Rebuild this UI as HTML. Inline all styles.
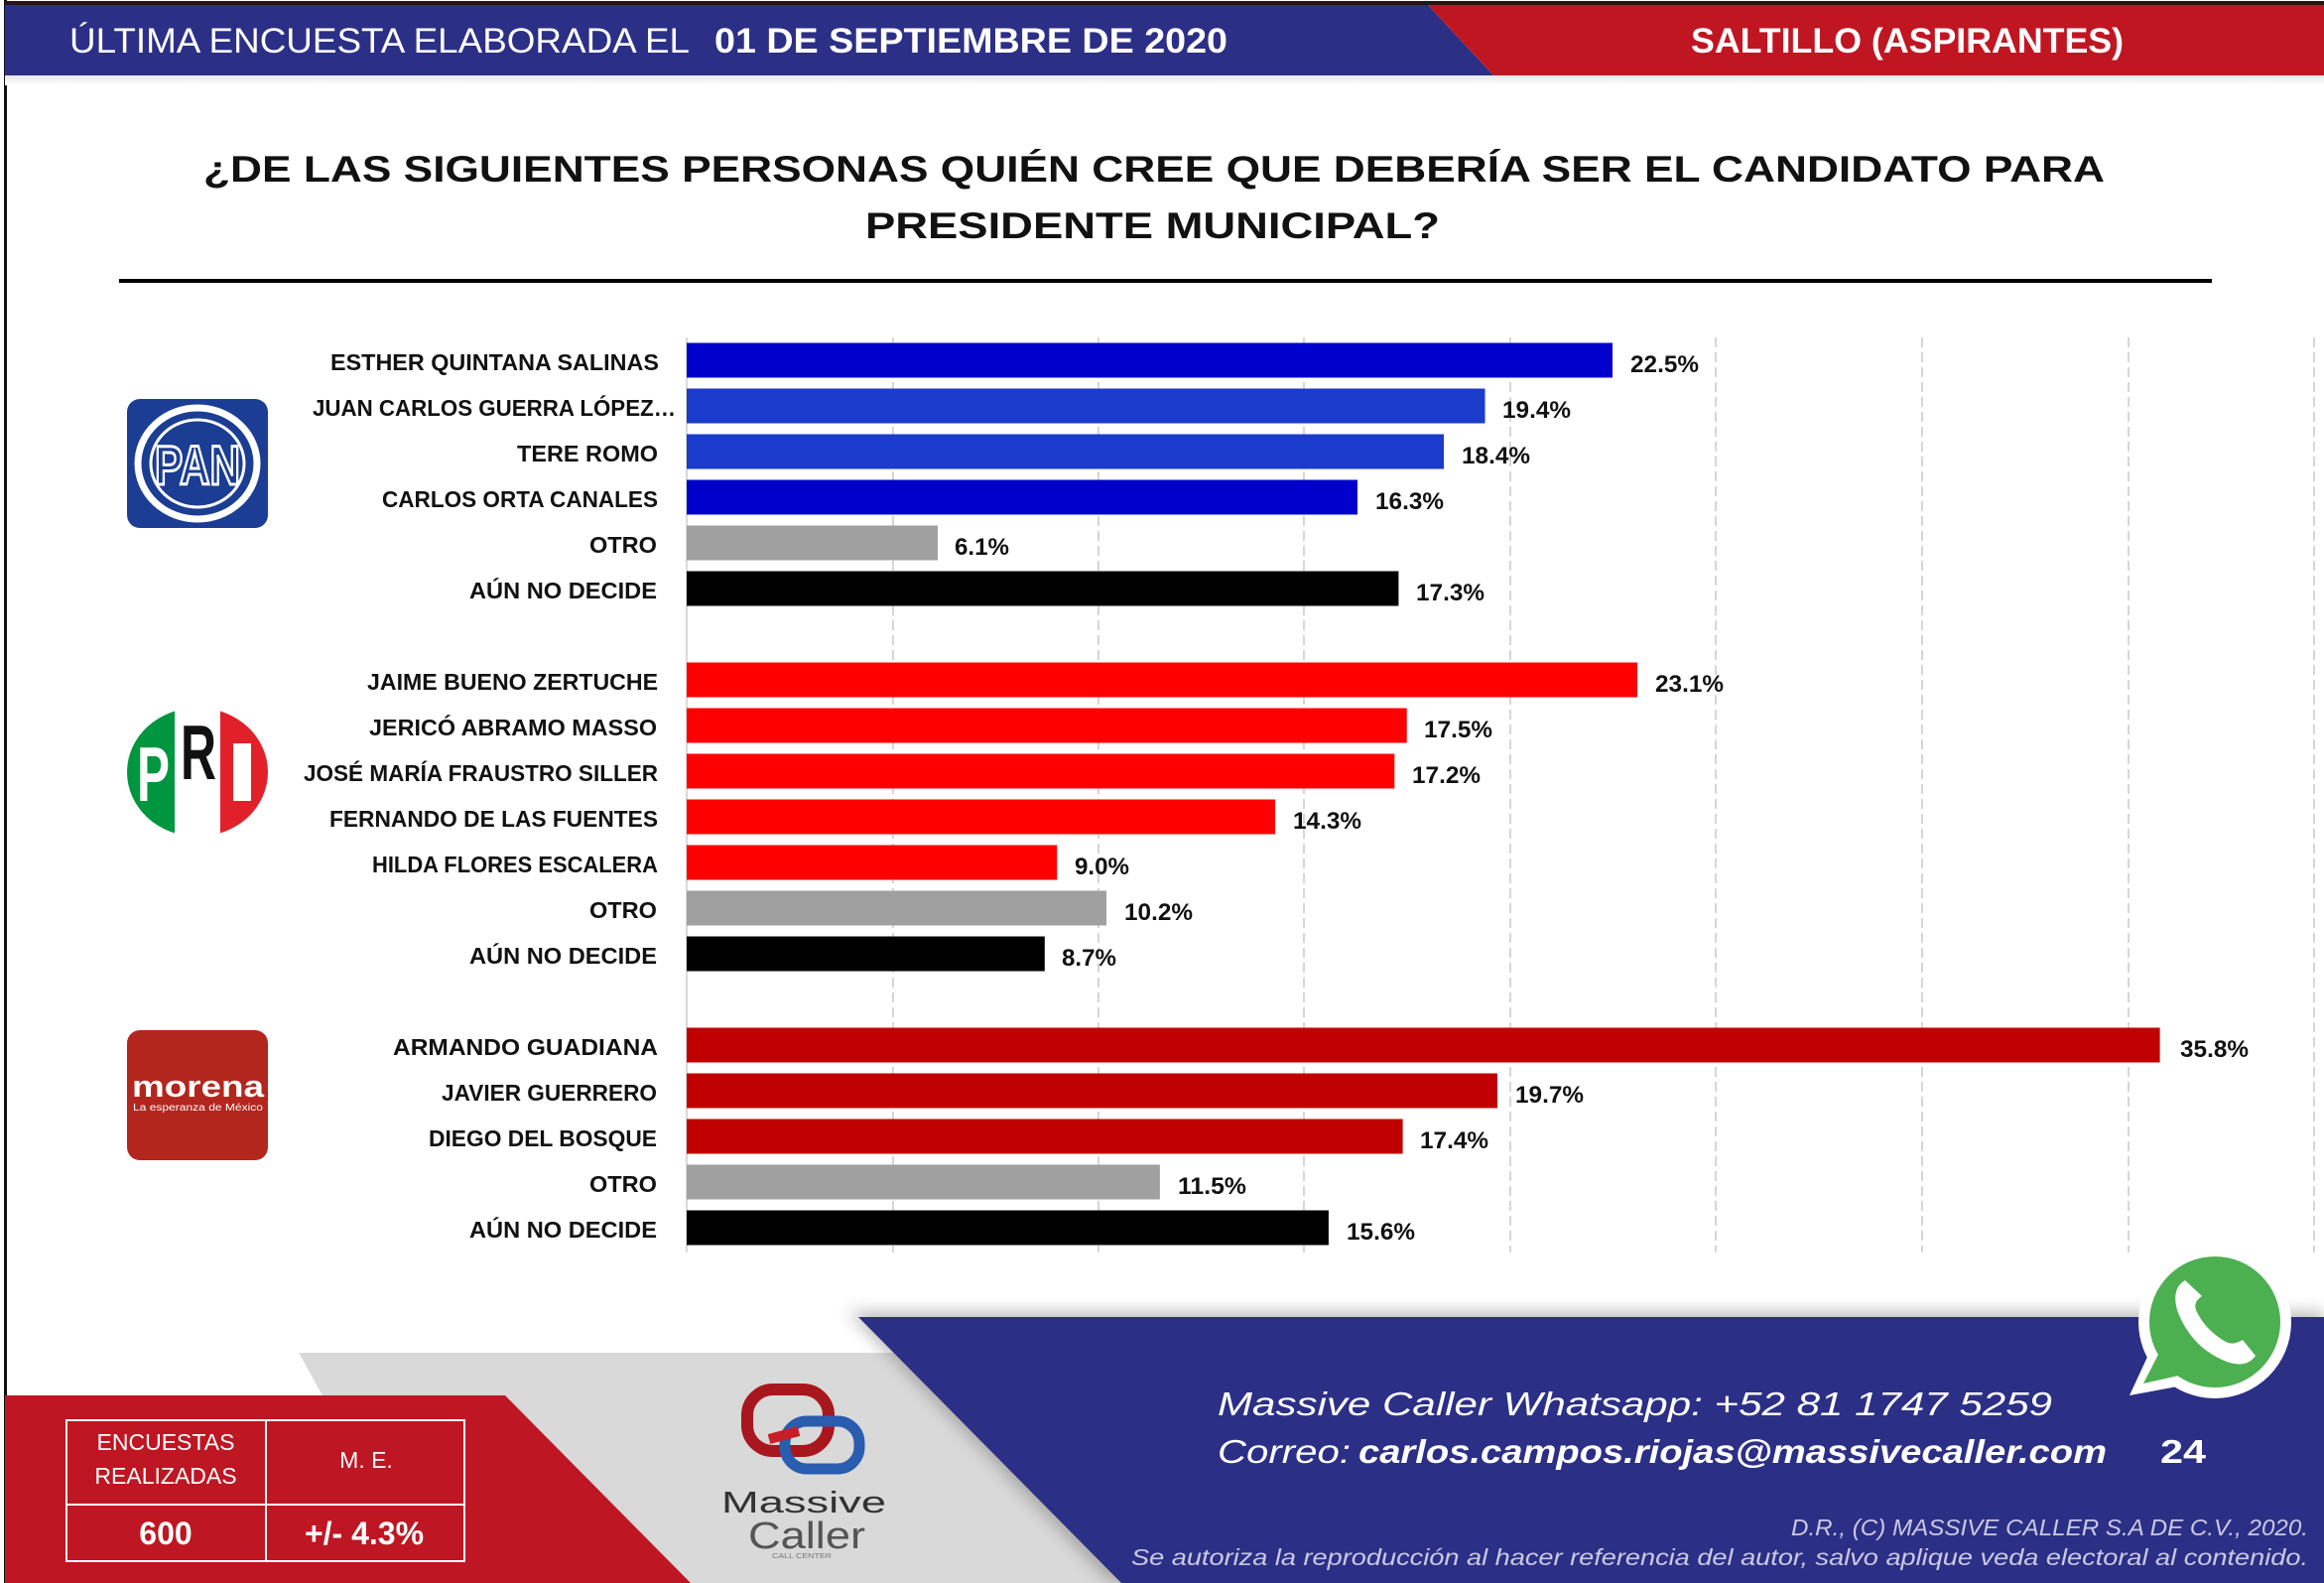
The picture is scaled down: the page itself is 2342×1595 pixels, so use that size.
<!DOCTYPE html>
<html><head><meta charset="utf-8"><style>
html,body{margin:0;padding:0;background:#fff;}
svg{display:block;}
text{font-family:"Liberation Sans",Arial,sans-serif;}
</style></head><body>
<svg width="2342" height="1595" viewBox="0 0 2342 1595" xmlns="http://www.w3.org/2000/svg">
<defs>
<filter id="blur" x="-20%" y="-20%" width="140%" height="140%"><feGaussianBlur stdDeviation="8"/></filter>
<linearGradient id="hdrsh" x1="0" y1="0" x2="0" y2="1"><stop offset="0" stop-color="#e8e8e8"/><stop offset="1" stop-color="#ffffff"/></linearGradient>
</defs>
<rect width="2342" height="1595" fill="#fff"/>
<!-- slide left border -->
<rect x="4" y="0" width="3" height="1595" fill="#111"/>
<!-- header -->
<rect x="5" y="76" width="2337" height="10" fill="url(#hdrsh)"/>
<rect x="5" y="1" width="2337" height="4" fill="#2a1416"/>
<polygon points="5,5 1439,5 1505,76 5,76" fill="#2C2F86"/>
<polygon points="1439,5 2342,5 2342,76 1505,76" fill="#C01622"/>
<text x="70" y="53" font-size="35" fill="#fff" textLength="625" lengthAdjust="spacingAndGlyphs">ÚLTIMA ENCUESTA ELABORADA EL</text>
<text x="720" y="53" font-size="35" font-weight="bold" fill="#fff" textLength="517" lengthAdjust="spacingAndGlyphs">01 DE SEPTIEMBRE DE 2020</text>
<text x="1704" y="53" font-size="35" font-weight="bold" fill="#fff" textLength="436" lengthAdjust="spacingAndGlyphs">SALTILLO (ASPIRANTES)</text>
<!-- title -->
<text x="205" y="183" font-size="37" font-weight="bold" fill="#111" textLength="1916" lengthAdjust="spacingAndGlyphs">¿DE LAS SIGUIENTES PERSONAS QUIÉN CREE QUE DEBERÍA SER EL CANDIDATO PARA</text>
<text x="872" y="240" font-size="37" font-weight="bold" fill="#111" textLength="579" lengthAdjust="spacingAndGlyphs">PRESIDENTE MUNICIPAL?</text>
<rect x="120" y="281" width="2109" height="4" fill="#000"/>
<!-- gridlines -->
<g stroke="#d6d6d6" stroke-width="2" stroke-dasharray="10,5">
<line x1="900" y1="340" x2="900" y2="1262"/>
<line x1="1107" y1="340" x2="1107" y2="1262"/>
<line x1="1314" y1="340" x2="1314" y2="1262"/>
<line x1="1522" y1="340" x2="1522" y2="1262"/>
<line x1="1729" y1="340" x2="1729" y2="1262"/>
<line x1="1937" y1="340" x2="1937" y2="1262"/>
<line x1="2145" y1="340" x2="2145" y2="1262"/>
<line x1="2332" y1="340" x2="2332" y2="1262"/>
</g>
<line x1="692" y1="340" x2="692" y2="1262" stroke="#d9d9d9" stroke-width="2"/>
<!-- bars -->
<g>
<rect x="692" y="345.5" width="933" height="35" fill="#0000CC"/>
<rect x="692" y="391.5" width="804.5" height="35" fill="#1A3BCB"/>
<rect x="692" y="437.5" width="763" height="35" fill="#1A3BCB"/>
<rect x="692" y="483.5" width="676" height="35" fill="#0000CC"/>
<rect x="692" y="529.5" width="253" height="35" fill="#A0A0A0"/>
<rect x="692" y="575.5" width="717.4" height="35" fill="#000"/>
<rect x="692" y="667.5" width="958" height="35" fill="#FF0000"/>
<rect x="692" y="713.5" width="725.7" height="35" fill="#FF0000"/>
<rect x="692" y="759.5" width="713.3" height="35" fill="#FF0000"/>
<rect x="692" y="805.5" width="593" height="35" fill="#FF0000"/>
<rect x="692" y="851.5" width="373.2" height="35" fill="#FF0000"/>
<rect x="692" y="897.5" width="423" height="35" fill="#A0A0A0"/>
<rect x="692" y="943.5" width="360.8" height="35" fill="#000"/>
<rect x="692" y="1035.5" width="1484.6" height="35" fill="#C00000"/>
<rect x="692" y="1081.5" width="817" height="35" fill="#C00000"/>
<rect x="692" y="1127.5" width="721.6" height="35" fill="#C00000"/>
<rect x="692" y="1173.5" width="476.9" height="35" fill="#A0A0A0"/>
<rect x="692" y="1219.5" width="646.9" height="35" fill="#000"/>
</g>
<!-- category labels -->
<g font-size="23" font-weight="bold" fill="#111">
<text x="333" y="373" textLength="331" lengthAdjust="spacingAndGlyphs">ESTHER QUINTANA SALINAS</text>
<text x="315" y="419" textLength="366" lengthAdjust="spacingAndGlyphs">JUAN CARLOS GUERRA LÓPEZ…</text>
<text x="521" y="465" textLength="142" lengthAdjust="spacingAndGlyphs">TERE ROMO</text>
<text x="385" y="511" textLength="278" lengthAdjust="spacingAndGlyphs">CARLOS ORTA CANALES</text>
<text x="594" y="557" textLength="68" lengthAdjust="spacingAndGlyphs">OTRO</text>
<text x="473" y="603" textLength="189" lengthAdjust="spacingAndGlyphs">AÚN NO DECIDE</text>
<text x="370" y="695" textLength="293" lengthAdjust="spacingAndGlyphs">JAIME BUENO ZERTUCHE</text>
<text x="372" y="741" textLength="290" lengthAdjust="spacingAndGlyphs">JERICÓ ABRAMO MASSO</text>
<text x="306" y="787" textLength="357" lengthAdjust="spacingAndGlyphs">JOSÉ MARÍA FRAUSTRO SILLER</text>
<text x="332" y="833" textLength="331" lengthAdjust="spacingAndGlyphs">FERNANDO DE LAS FUENTES</text>
<text x="375" y="879" textLength="288" lengthAdjust="spacingAndGlyphs">HILDA FLORES ESCALERA</text>
<text x="594" y="925" textLength="68" lengthAdjust="spacingAndGlyphs">OTRO</text>
<text x="473" y="971" textLength="189" lengthAdjust="spacingAndGlyphs">AÚN NO DECIDE</text>
<text x="396" y="1063" textLength="267" lengthAdjust="spacingAndGlyphs">ARMANDO GUADIANA</text>
<text x="445" y="1109" textLength="217" lengthAdjust="spacingAndGlyphs">JAVIER GUERRERO</text>
<text x="432" y="1155" textLength="230" lengthAdjust="spacingAndGlyphs">DIEGO DEL BOSQUE</text>
<text x="594" y="1201" textLength="68" lengthAdjust="spacingAndGlyphs">OTRO</text>
<text x="473" y="1247" textLength="189" lengthAdjust="spacingAndGlyphs">AÚN NO DECIDE</text>
</g>
<!-- value labels -->
<g font-size="24" font-weight="bold" fill="#111">
<text x="1643" y="375" textLength="69" lengthAdjust="spacingAndGlyphs">22.5%</text>
<text x="1514" y="421" textLength="69" lengthAdjust="spacingAndGlyphs">19.4%</text>
<text x="1473" y="467" textLength="69" lengthAdjust="spacingAndGlyphs">18.4%</text>
<text x="1386" y="513" textLength="69" lengthAdjust="spacingAndGlyphs">16.3%</text>
<text x="962" y="559" textLength="55" lengthAdjust="spacingAndGlyphs">6.1%</text>
<text x="1427" y="605" textLength="69" lengthAdjust="spacingAndGlyphs">17.3%</text>
<text x="1668" y="697" textLength="69" lengthAdjust="spacingAndGlyphs">23.1%</text>
<text x="1435" y="743" textLength="69" lengthAdjust="spacingAndGlyphs">17.5%</text>
<text x="1423" y="789" textLength="69" lengthAdjust="spacingAndGlyphs">17.2%</text>
<text x="1303" y="835" textLength="69" lengthAdjust="spacingAndGlyphs">14.3%</text>
<text x="1083" y="881" textLength="55" lengthAdjust="spacingAndGlyphs">9.0%</text>
<text x="1133" y="927" textLength="69" lengthAdjust="spacingAndGlyphs">10.2%</text>
<text x="1070" y="973" textLength="55" lengthAdjust="spacingAndGlyphs">8.7%</text>
<text x="2197" y="1065" textLength="69" lengthAdjust="spacingAndGlyphs">35.8%</text>
<text x="1527" y="1111" textLength="69" lengthAdjust="spacingAndGlyphs">19.7%</text>
<text x="1431" y="1157" textLength="69" lengthAdjust="spacingAndGlyphs">17.4%</text>
<text x="1187" y="1203" textLength="69" lengthAdjust="spacingAndGlyphs">11.5%</text>
<text x="1357" y="1249" textLength="69" lengthAdjust="spacingAndGlyphs">15.6%</text>
</g>
<!-- PAN logo -->
<rect x="128" y="402" width="142" height="130" rx="13" fill="#1B3D93"/>
<ellipse cx="199" cy="467" rx="60" ry="56" fill="none" stroke="#fff" stroke-width="7"/>
<ellipse cx="199" cy="467" rx="47" ry="44" fill="none" stroke="#fff" stroke-width="3"/>
<text x="156" y="488" font-size="56" font-weight="bold" fill="#1B3D93" stroke="#fff" stroke-width="3" textLength="86" lengthAdjust="spacingAndGlyphs">PAN</text>
<!-- PRI logo -->
<clipPath id="pric"><ellipse cx="199" cy="778" rx="71" ry="65"/></clipPath>
<g clip-path="url(#pric)">
<rect x="120" y="700" width="56" height="150" fill="#00953F"/>
<rect x="176" y="700" width="46" height="150" fill="#fff"/>
<rect x="222" y="700" width="60" height="150" fill="#E1202A"/>
</g>
<text x="138" y="807" font-size="78" font-weight="bold" fill="#fff" textLength="33" lengthAdjust="spacingAndGlyphs">P</text>
<text x="182" y="785" font-size="78" font-weight="bold" fill="#111" textLength="36" lengthAdjust="spacingAndGlyphs">R</text>
<rect x="235" y="749" width="18" height="58" fill="#fff"/>
<!-- morena logo -->
<rect x="128" y="1038" width="142" height="131" rx="13" fill="#B3261E"/>
<text x="133" y="1105" font-size="31" font-weight="bold" fill="#fff" textLength="133" lengthAdjust="spacingAndGlyphs">morena</text>
<text x="134" y="1119" font-size="10" fill="#fff" textLength="131" lengthAdjust="spacingAndGlyphs">La esperanza de México</text>
<!-- footer shapes -->
<polygon points="301,1363 1300,1363 1300,1595 430,1595" fill="#D9D9D9"/>
<polygon points="855,1322 2342,1322 2342,1595 1120,1595" fill="#666" opacity="0.45" filter="url(#blur)"/>
<polygon points="865,1327 2342,1327 2342,1595 1130,1595" fill="#2C2F86"/>
<polygon points="5,1406 509,1406 696,1595 5,1595" fill="#BE1622"/>
<!-- table -->
<g stroke="#fff" stroke-width="2" fill="none">
<rect x="67" y="1431" width="401" height="142"/>
<line x1="268" y1="1431" x2="268" y2="1573"/>
<line x1="67" y1="1516" x2="468" y2="1516"/>
</g>
<g fill="#fff" text-anchor="middle">
<text x="167" y="1461" font-size="23">ENCUESTAS</text>
<text x="167" y="1495" font-size="23">REALIZADAS</text>
<text x="369" y="1479" font-size="23">M. E.</text>
<text x="167" y="1556" font-size="32" font-weight="bold">600</text>
<text x="367" y="1556" font-size="32" font-weight="bold">+/- 4.3%</text>
</g>
<!-- Massive Caller logo -->
<rect x="753" y="1400" width="82" height="62" rx="26" fill="none" stroke="#A8161E" stroke-width="12"/>
<rect x="791" y="1432" width="75" height="48" rx="22" fill="none" stroke="#2A5CB0" stroke-width="11"/>
<path d="M775 1450 L805 1442" stroke="#C81E28" stroke-width="10"/>
<text x="727" y="1524" font-size="31" fill="#333" textLength="166" lengthAdjust="spacingAndGlyphs">Massive</text>
<text x="754" y="1560" font-size="38" fill="#555" textLength="118" lengthAdjust="spacingAndGlyphs">Caller</text>
<text x="778" y="1570" font-size="7" fill="#777" textLength="60" lengthAdjust="spacingAndGlyphs">CALL CENTER</text>
<!-- whatsapp -->
<circle cx="2232" cy="1332" r="77" fill="#fff"/>
<polygon points="2146,1406 2172,1350 2205,1395" fill="#fff"/>
<circle cx="2232" cy="1332" r="66" fill="#4CAF50"/>
<polygon points="2160,1394 2180,1355 2200,1385" fill="#4CAF50"/>
<path d="M2202 1290 q-14 8 -8 30 q14 38 50 52 q20 7 29 -6 l-13 -16 q-10 6 -17 2 q-21 -12 -30 -32 q-3 -8 6 -14 z" fill="#fff"/>
<!-- footer texts -->
<text x="1227" y="1426" font-size="33" font-style="italic" fill="#fff" textLength="841" lengthAdjust="spacingAndGlyphs">Massive Caller Whatsapp:  +52  81 1747 5259</text>
<text x="1227" y="1474" font-size="33" font-style="italic" fill="#fff" textLength="134" lengthAdjust="spacingAndGlyphs">Correo:</text>
<text x="1369" y="1474" font-size="33" font-style="italic" font-weight="bold" fill="#fff" textLength="754" lengthAdjust="spacingAndGlyphs">carlos.campos.riojas@massivecaller.com</text>
<text x="2177" y="1474" font-size="33" font-weight="bold" fill="#fff" textLength="46" lengthAdjust="spacingAndGlyphs">24</text>
<text x="1805" y="1547" font-size="23" font-style="italic" fill="#c9cae3" textLength="521" lengthAdjust="spacingAndGlyphs">D.R., (C) MASSIVE CALLER S.A DE C.V., 2020.</text>
<text x="1140" y="1577" font-size="23" font-style="italic" fill="#c9cae3" textLength="1186" lengthAdjust="spacingAndGlyphs">Se autoriza la reproducción al hacer referencia del autor, salvo aplique veda electoral al contenido.</text>
</svg>
</body></html>
